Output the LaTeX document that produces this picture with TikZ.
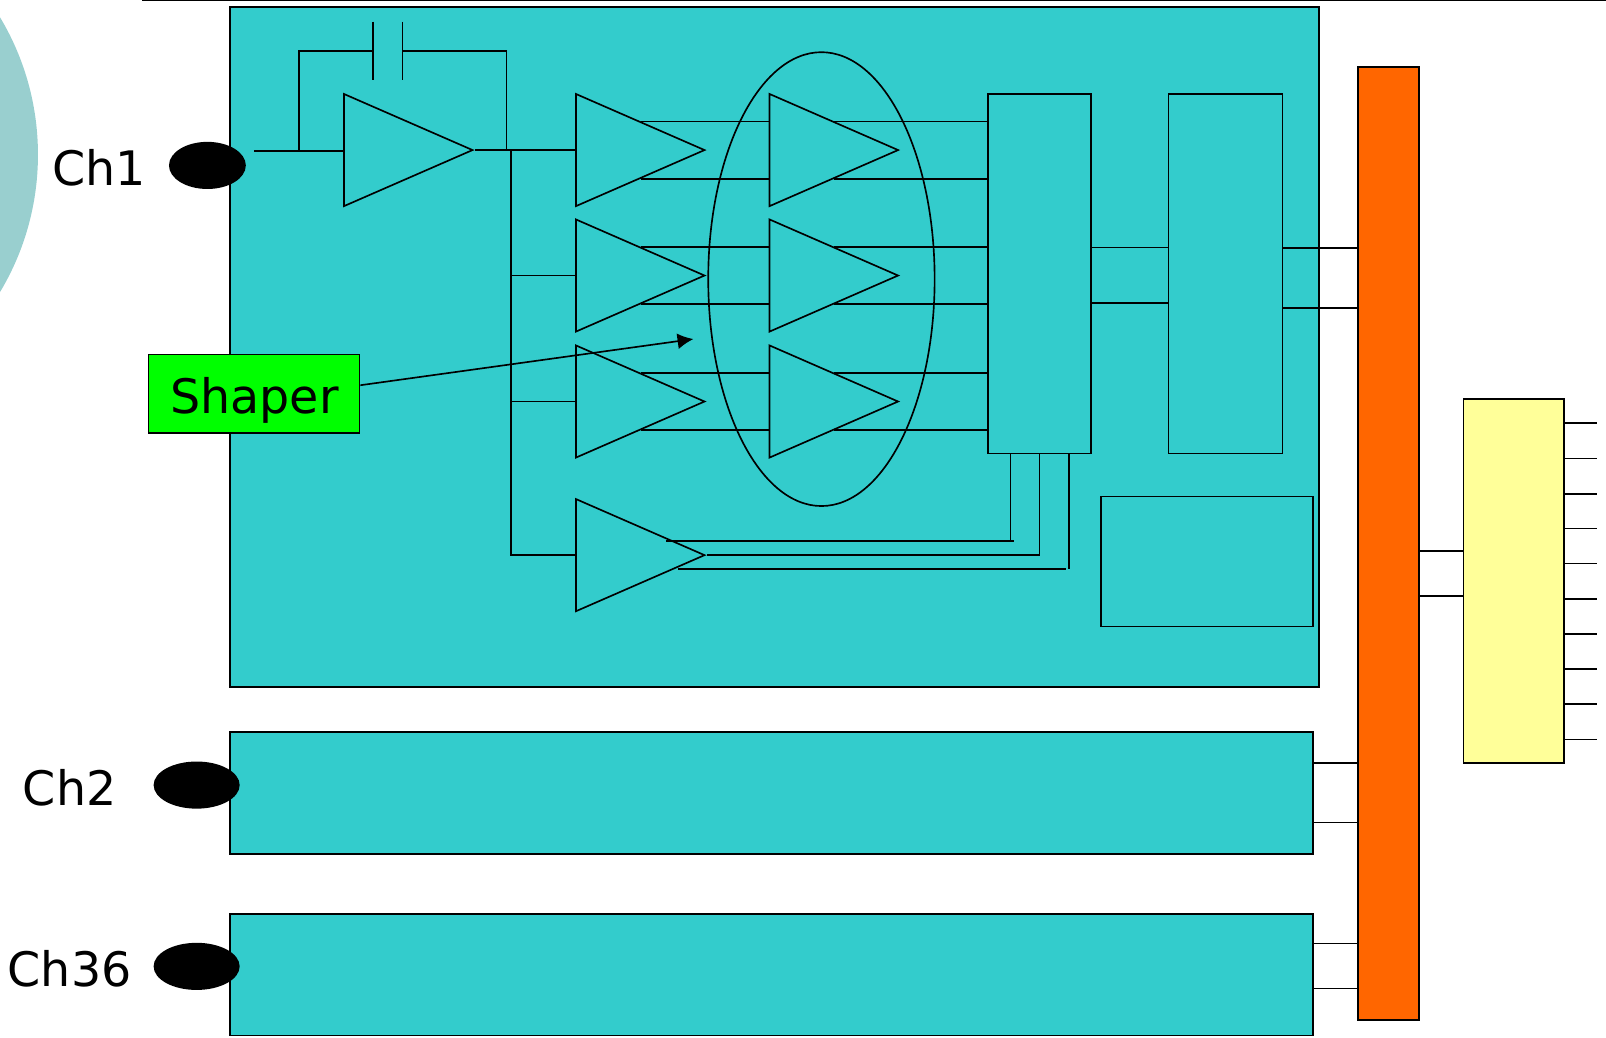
\documentclass[tikz,border=0pt]{standalone}
\usepackage{fontspec}
\setmainfont{DejaVu Sans}
\usetikzlibrary{positioning,shapes.geometric,arrows.meta}
\definecolor{tealfill}{HTML}{33CCCC}
\definecolor{busfill}{HTML}{FF6600}
\definecolor{outfill}{HTML}{FFFF99}
\definecolor{discfill}{HTML}{99CFCF}
\tikzset{
  amp/.style={draw, isosceles triangle, isosceles triangle stretches, minimum height=3.1375cm, minimum width=2.7375cm, inner sep=0pt, anchor=lower side},
  tealbox/.style={draw, fill=tealfill, inner sep=0pt, line width=1.3pt},
  plainbox/.style={draw, inner sep=0pt},
  port/.style={ellipse, fill=black, inner sep=0pt, minimum height=1.15cm},
  chlabel/.style={font=\fontsize{33}{38}\selectfont, anchor=base, inner sep=0pt}
}
\begin{document}
\begin{tikzpicture}[x=0.025cm, y=-0.025cm, line width=1.15pt]
\useasboundingbox (0,0) rectangle (1568,1012.5);
\node (disc) [circle, fill=discfill, inner sep=0pt, minimum size=13.05cm] at (-224,151) {};
\coordinate (ruleleft) at (139,0.5);
\coordinate (ruleright) at (1568,0.5);
\draw (ruleleft) -- (ruleright);
\node (chip) [tealbox, minimum width=26.575cm, minimum height=16.6cm] at (756,338.75) {};
\node (chiptwo) [tealbox, minimum width=26.4375cm, minimum height=2.975cm] at (753.25,774.5) {};
\node (chipsix) [tealbox, minimum width=26.4375cm, minimum height=2.975cm] at (753.25,951.5) {};
\node (bus) [draw, fill=busfill, inner sep=0pt, line width=1.3pt, minimum width=1.475cm, minimum height=23.25cm] at (1355.75,530.75) {};
\node (outbox) [draw, fill=outfill, inner sep=0pt, minimum width=2.45cm, minimum height=8.875cm] at (1478,567.25) {};
\node (midbox) [plainbox, minimum width=2.5125cm, minimum height=8.775cm] at (1014.75,267.25) {};
\node (rightbox) [plainbox, minimum width=2.775cm, minimum height=8.775cm] at (1196.5,267.25) {};
\node (lowbox) [plainbox, minimum width=5.175cm, minimum height=3.175cm] at (1178.5,548.25) {};
\node (loop) [draw, ellipse, inner sep=0pt, minimum width=5.525cm, minimum height=11.075cm] at (802,272.5) {};
\node (pre) [amp] at (335,146.5) {};
\node (aone) [amp] at (561.5,146.5) {};
\node (atwo) [amp] at (561.5,269) {};
\node (athree) [amp] at (561.5,392) {};
\node (afour) [amp] at (561.5,542) {};
\node (bone) [amp] at (750.5,146.5) {};
\node (btwo) [amp] at (750.5,269) {};
\node (bthree) [amp] at (750.5,392) {};
\node (portone) [port, minimum width=1.875cm] at (202.5,161.5) {};
\node (porttwo) [port, minimum width=2.1cm] at (192,766.5) {};
\node (portsix) [port, minimum width=2.1cm] at (192,943.5) {};
\node (chone) [chlabel] at (97,181) {Ch1};
\node (chtwo) [chlabel] at (68,786) {Ch2};
\node (chsix) [chlabel] at (68,963) {Ch36};
\node (shaper) [draw, fill=green, inner sep=0pt, minimum width=5.15cm, minimum height=1.925cm] at (248,384.5) {};
\node (shapertext) [chlabel] at (248.5,404) {Shaper};
\coordinate (shaperend) at (677,331);
\draw[-{Latex[length=11pt,width=11pt]}] ([yshift=0.21cm]shaper.east) -- (shaperend);
% input stage and feedback capacitor
\coordinate (inlead) at (248,147.5);
\coordinate (fbin) at (292,147.5);
\coordinate (fbout) at (494.5,147.5);
\coordinate (capleft) at (364,50);
\coordinate (capright) at (393,50);
\coordinate (plateltop) at (364,21);
\coordinate (platelbot) at (364,78);
\coordinate (platertop) at (393,21);
\coordinate (platerbot) at (393,78);
\draw (inlead) -- (inlead -| pre.lower side);
\draw (fbin) |- (capleft);
\draw (capright) -| (fbout);
\draw (plateltop) -- (platelbot);
\draw (platertop) -- (platerbot);
\draw (pre.apex) -- (aone.lower side);
% fan-out to the four shapers
\coordinate (fan) at (499,146.5);
\draw (fan) |- (afour.lower side);
\draw (fan |- atwo.lower side) -- (atwo.lower side);
\draw (fan |- athree.lower side) -- (athree.lower side);
% pairs of lines through the ellipse
\draw (aone.left side) -- (aone.left side -| bone.lower side);
\draw (aone.right side) -- (aone.right side -| bone.lower side);
\draw (atwo.left side) -- (atwo.left side -| btwo.lower side);
\draw (atwo.right side) -- (atwo.right side -| btwo.lower side);
\draw (athree.left side) -- (athree.left side -| bthree.lower side);
\draw (athree.right side) -- (athree.right side -| bthree.lower side);
\draw (bone.left side) -- (bone.left side -| midbox.west);
\draw (bone.right side) -- (bone.right side -| midbox.west);
\draw (btwo.left side) -- (btwo.left side -| midbox.west);
\draw (btwo.right side) -- (btwo.right side -| midbox.west);
\draw (bthree.left side) -- (bthree.left side -| midbox.west);
\draw (bthree.right side) -- (bthree.right side -| midbox.west);
% lines back from the middle box
\coordinate (tapone) at (986.5,528);
\coordinate (taponeleft) at (650,528);
\coordinate (taponeright) at (990,528);
\coordinate (tapthree) at (1044,555.5);
\coordinate (tapthreeleft) at (662,555.5);
\coordinate (tapthreeright) at (1041,555.5);
\draw (tapone |- midbox.south) -- (tapone);
\draw (taponeleft) -- (taponeright);
\draw (midbox.south) |- (afour.apex);
\draw (tapthree |- midbox.south) -- (tapthree);
\draw (tapthreeleft) -- (tapthreeright);
% links to the bus
\coordinate (rowa) at (1100,241.5);
\coordinate (rowb) at (1100,296);
\coordinate (rowc) at (1290,242);
\coordinate (rowd) at (1290,301);
\draw (midbox.east |- rowa) -- (rightbox.west |- rowa);
\draw (midbox.east |- rowb) -- (rightbox.west |- rowb);
\draw (rightbox.east |- rowc) -- (bus.west |- rowc);
\draw (rightbox.east |- rowd) -- (bus.west |- rowd);
\coordinate (rowe) at (1300,745);
\coordinate (rowf) at (1300,803);
\coordinate (rowg) at (1300,921);
\coordinate (rowh) at (1300,965);
\draw (chiptwo.east |- rowe) -- (bus.west |- rowe);
\draw (chiptwo.east |- rowf) -- (bus.west |- rowf);
\draw (chipsix.east |- rowg) -- (bus.west |- rowg);
\draw (chipsix.east |- rowh) -- (bus.west |- rowh);
\coordinate (rowi) at (1400,538);
\coordinate (rowj) at (1400,582);
\draw (bus.east |- rowi) -- (outbox.west |- rowi);
\draw (bus.east |- rowj) -- (outbox.west |- rowj);
% output pins
\coordinate (pina) at (1559,413);
\coordinate (pinb) at (1559,447.5);
\coordinate (pinc) at (1559,482);
\coordinate (pind) at (1559,516);
\coordinate (pine) at (1559,550);
\coordinate (pinf) at (1559,584.5);
\coordinate (ping) at (1559,619);
\coordinate (pinh) at (1559,653);
\coordinate (pini) at (1559,687.5);
\coordinate (pinj) at (1559,722);
\draw (outbox.east |- pina) -- (pina);
\draw (outbox.east |- pinb) -- (pinb);
\draw (outbox.east |- pinc) -- (pinc);
\draw (outbox.east |- pind) -- (pind);
\draw (outbox.east |- pine) -- (pine);
\draw (outbox.east |- pinf) -- (pinf);
\draw (outbox.east |- ping) -- (ping);
\draw (outbox.east |- pinh) -- (pinh);
\draw (outbox.east |- pini) -- (pini);
\draw (outbox.east |- pinj) -- (pinj);
\end{tikzpicture}
\end{document}
